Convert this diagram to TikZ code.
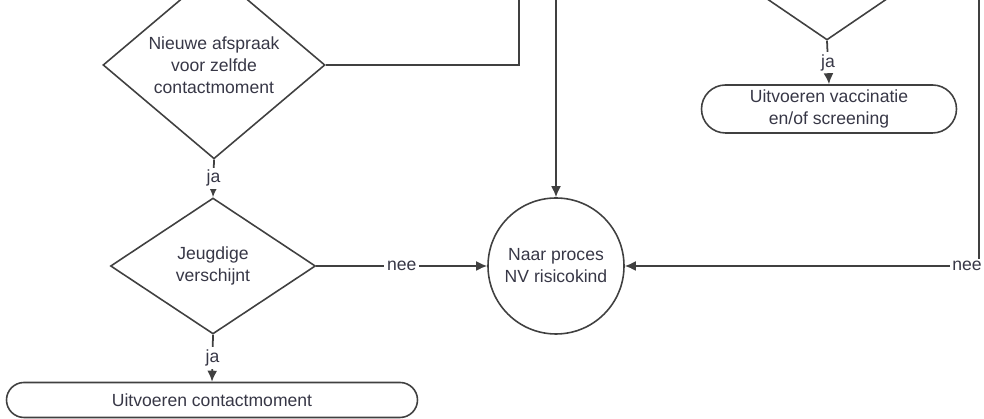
\documentclass[tikz,border=0pt]{standalone}
\usepackage{fontspec}
\setmainfont{Liberation Sans}
\usetikzlibrary{
    arrows.meta,
    shapes,
    calc
}
\definecolor{lijn}{gray}{0.25}
\definecolor{tekst}{RGB}{55,55,70}

\begin{document}
\begin{tikzpicture}[
        >={Latex[length=2.2mm, width=2mm]},
        every node/.style={font=\fontsize{10}{12.5}\selectfont, text=tekst},
        keuze/.style={draw=lijn, line width=0.9pt, diamond, inner sep=0pt, align=center,
            minimum width=4.44cm, minimum height=3cm},
        actie/.style={draw=lijn, line width=0.9pt, rounded rectangle, inner sep=0pt, align=center},
        eind/.style={draw=lijn, line width=0.9pt, circle, inner sep=0pt, align=center,
            minimum size=2.72cm},
        lbl/.style={fill=white, inner sep=1.5pt},
        verbinding/.style={draw=lijn, line width=1pt}
    ]
                        \useasboundingbox (0, 0) rectangle (19.68, 8.38);

                        \node[keuze] (nieuw) at (4.28, 7.08) {Nieuwe afspraak\\voor zelfde\\contactmoment};
                        \node[keuze, minimum width=4.1cm, minimum height=2.72cm] (jeugd) at (4.26, 3.06) {Jeugdige\\verschijnt};
                        \node[eind] (naar) at (11.12, 3.06) {Naar proces\\NV risicokind};
                        \node[keuze, minimum width=4.4cm] (rechts) at (16.54, 9.08) {};
                        \node[actie, minimum width=5.1cm, minimum height=0.96cm] (vaccin) at (16.58, 6.2) {Uitvoeren vaccinatie\\en/of screening};
                        \node[actie, minimum width=8.22cm, minimum height=0.7cm] (contact) at (4.24, 0.38) {Uitvoeren contactmoment};

                        \coordinate (boven1) at (10.38, 8.5);
                        \coordinate (boven2) at (11.12, 8.5);
                        \coordinate (boven3) at (19.58, 8.5);

                        \draw[verbinding] (nieuw.east) -| (boven1);

                        \draw[verbinding, ->] (nieuw.south) -- node[lbl] {ja} (jeugd.north);
                        \draw[verbinding, ->] (jeugd.south) -- node[lbl] {ja} (contact.north);
                        \draw[verbinding, ->] (jeugd.east) -- node[lbl] {nee} (naar.west);
                        \draw[verbinding, ->] (rechts.south) -- node[lbl] {ja} (vaccin.north);
                        \draw[verbinding, ->] (boven2) -- (naar.north);
                        \draw[verbinding, ->] (boven3) |- node[lbl, xshift=-0.24cm] {nee} (naar.east);
                    \end{tikzpicture}
\end{document}
